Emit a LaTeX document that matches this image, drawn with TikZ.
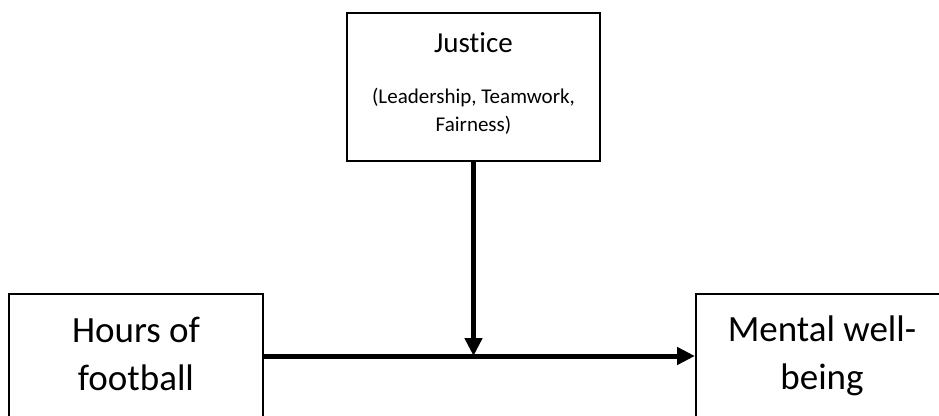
\documentclass[tikz,border=0pt]{standalone}
\usepackage{fontspec}
\setmainfont{Carlito}[Ligatures={NoCommon}]
\usetikzlibrary{arrows.meta}
\begin{document}
\begin{tikzpicture}[x=1pt,y=1pt,
  box/.style={draw=black,line width=2pt,rectangle,inner sep=0pt,fill=white},
  bigtxt/.style={align=center,font=\fontsize{37}{48}\selectfont,inner sep=0pt},
  midtxt/.style={align=center,font=\fontsize{29}{34}\selectfont,inner sep=0pt},
  smalltxt/.style={align=center,font=\fontsize{21}{28}\selectfont,inner sep=0pt},
  arr/.style={line width=5pt,-{Triangle[length=18pt,width=17pt]}}]
\useasboundingbox (0,0) rectangle (939,415);
\clip (0,0) rectangle (939,415);
% boxes
\node[box,minimum width=253pt,minimum height=148pt] (justice) at (473.5,328) {};
\node[box,minimum width=254pt,minimum height=150pt] (hours) at (136,46) {};
\node[box,minimum width=252pt,minimum height=150pt] (well) at (822,46) {};
% texts
\node[midtxt] (jt) at (473.5,372) {Justice};
\node[smalltxt] (js) at (473.5,304) {(Leadership, Teamwork,\\Fairness)};
\node[bigtxt] (ht) at (136,61) {Hours of\\football};
\node[bigtxt] (wt) at (822,59) {Mental well-\\being};
% connectors
\coordinate (m) at (473.5,59);
\draw[arr] (hours.east |- m) -- (well.west |- m);
\draw[arr] (justice.south) -- (m);
\end{tikzpicture}
\end{document}
